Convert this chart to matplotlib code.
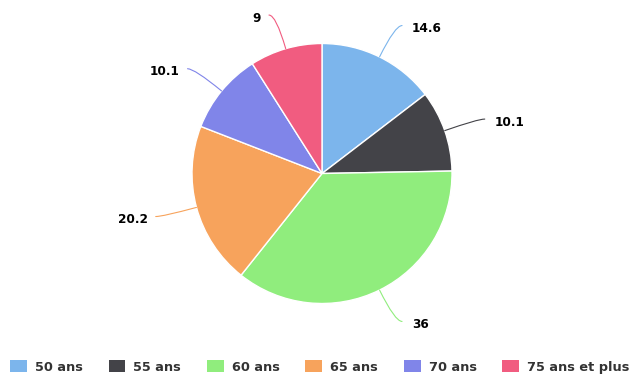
import numpy as np
import matplotlib
matplotlib.use("Agg")
import matplotlib.pyplot as plt

categories = ["50 ans", "55 ans", "60 ans", "65 ans", "70 ans", "75 ans et plus"]
values = [14.6, 10.1, 36, 20.2, 10.1, 9]
labels = ["14.6", "10.1", "36", "20.2", "10.1", "9"]
colors = ["#7cb5ec", "#434348", "#90ed7d", "#f7a35c", "#8085e9", "#f15c80"]

W, H = 636, 375
fig = plt.figure(figsize=(W / 100, H / 100), dpi=100)
ax = fig.add_axes([0, 0, 1, 1])

cx, cy, R = 322, H - 173.5, 130
wedges, _ = ax.pie(values, colors=colors, startangle=90, counterclock=False,
                   center=(cx, cy), radius=R,
                   wedgeprops=dict(edgecolor="white", linewidth=1))
ax.set_xlim(0, W)
ax.set_ylim(0, H)
ax.set_aspect("equal")
ax.axis("off")

total = sum(values)
cum = np.cumsum([0] + values[:-1])
for v, c0, lab, col in zip(values, cum, labels, colors):
    frac = (c0 + v / 2) / total
    a = 2 * np.pi * frac  # clockwise from top
    sx, sy = np.sin(a), np.cos(a)
    ex, ey = cx + R * sx, cy + R * sy
    right = sx >= 0
    px = cx + (R + 35) * sx + (7 if right else -7)
    py = cy + (R + 35) * sy
    ang_b = np.degrees(np.arctan2(sy, sx))
    ax.annotate("", xy=(ex, ey), xytext=(px, py),
                arrowprops=dict(arrowstyle="-", color=col, lw=0.8,
                                shrinkA=0, shrinkB=0,
                                connectionstyle=f"angle3,angleA=0,angleB={ang_b:.2f}"))
    ax.text(px + (10 if right else -8), py - 3, lab,
            ha="left" if right else "right", va="center",
            fontsize=8.7, fontweight="bold", color="black")

leg = fig.legend(wedges, categories, loc="center left",
                 bbox_to_anchor=(10 / W, 8 / H), ncol=6, frameon=False,
                 fontsize=9.3, handlelength=1.3, handleheight=1.0,
                 handletextpad=0.62, columnspacing=2.0,
                 borderpad=0, borderaxespad=0)
for t in leg.get_texts():
    t.set_color("#333333")
    t.set_fontweight("bold")
for h in leg.legend_handles:
    h.set_edgecolor("none")

fig.savefig("out.png", dpi=100)
